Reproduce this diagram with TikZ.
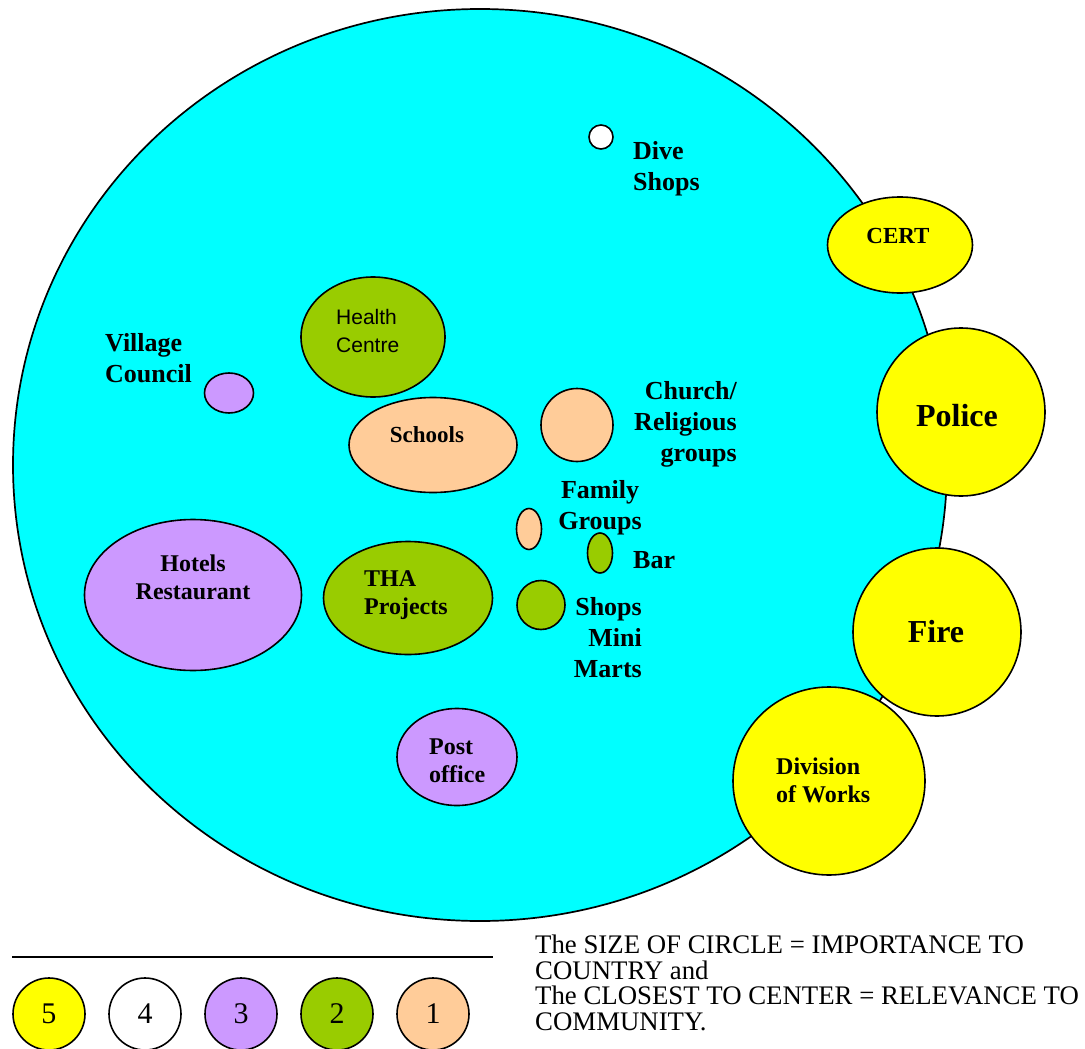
\documentclass[tikz,border=0pt]{standalone}
\usepackage{fontspec}
\setmainfont{Liberation Serif}
\newfontfamily\arialfont{Liberation Sans}
\usetikzlibrary{shapes.geometric}
\definecolor{bgcyan}{HTML}{00FFFF}
\definecolor{yel}{HTML}{FFFF00}
\definecolor{lilac}{HTML}{CC99FF}
\definecolor{lime}{HTML}{99CC00}
\definecolor{peach}{HTML}{FFCC99}
\tikzset{
  blob/.style={ellipse, draw=black, line width=1.6pt, inner sep=0pt},
  legc/.style={circle, draw=black, line width=1.6pt, inner sep=0pt, minimum size=72pt,
    font=\fontsize{30}{30}\selectfont},
  lbl/.style={font=\bfseries\fontsize{26}{31}\selectfont, inner sep=0pt, align=left},
  lblm/.style={font=\bfseries\fontsize{24}{28}\selectfont, inner sep=0pt, align=left},
  lblb/.style={font=\bfseries\fontsize{32}{36}\selectfont, inner sep=0pt},
}
\begin{document}
\begin{tikzpicture}[x=1pt,y=-1pt]
\useasboundingbox (0,0) rectangle (1085,1049);
% main circle
\node[blob, fill=bgcyan, line width=1.7pt, minimum width=934pt, minimum height=912pt] (world) at (480,465) {};
% outer yellow bubbles
\node[blob, fill=yel, minimum width=145pt, minimum height=96pt] (cert) at (900,245) {};
\node[blob, fill=yel, minimum width=168pt, minimum height=168pt] (police) at (961,412) {};
\node[blob, fill=yel, minimum width=192pt, minimum height=188pt] (division) at (829,781) {};
\node[blob, fill=yel, minimum width=168pt, minimum height=168pt] (fire) at (937,632) {};
% inner bubbles
\node[blob, fill=white, minimum width=24pt, minimum height=24pt] (dive) at (601,137) {};
\node[blob, fill=lime, minimum width=144pt, minimum height=120pt] (health) at (373,337) {};
\node[blob, fill=peach, minimum width=168pt, minimum height=95pt] (schools) at (433,445) {};
\node[blob, fill=peach, minimum width=72pt, minimum height=73pt] (church) at (577,425) {};
\node[blob, fill=peach, minimum width=25pt, minimum height=41pt] (family) at (529,529) {};
\node[blob, fill=lime, minimum width=25pt, minimum height=40pt] (bar) at (600,553) {};
\node[blob, fill=lime, minimum width=48pt, minimum height=49pt] (shops) at (541,605) {};
\node[blob, fill=lilac, minimum width=49pt, minimum height=40pt] (village) at (229,393) {};
\node[blob, fill=lilac, minimum width=217pt, minimum height=151pt] (hotels) at (193,595) {};
\node[blob, fill=lime, minimum width=169pt, minimum height=113pt] (tha) at (408,598) {};
\node[blob, fill=lilac, minimum width=120pt, minimum height=97pt] (post) at (457,757) {};
% labels
\node[lbl, anchor=west] (tdive) at (633,169) {Dive\\Shops};
\node[font=\bfseries\fontsize{23}{26}\selectfont, inner sep=0pt] (tcert) at (898,236) {CERT};
\node[lblb] (tpolice) at (957,416) {Police};
\node[lblb] (tfire) at (936,632) {Fire};
\node[lblm, anchor=west] (tdiv) at (776,780) {Division\\of Works};
\node[font=\arialfont\fontsize{21}{28}\selectfont, inner sep=0pt, align=left, anchor=west] (thealth) at (336,331) {Health\\Centre};
\node[font=\bfseries\fontsize{23}{26}\selectfont, inner sep=0pt] (tschools) at (427,435) {Schools};
\node[lbl, anchor=east, align=right] (tchurch) at (737,424) {Church/\\Religious\\groups};
\node[lbl, align=center] (tfamily) at (600,508) {Family\\Groups};
\node[lbl, anchor=west] (tbar) at (633,560) {Bar};
\node[lbl, anchor=east, align=right] (tshops) at (642,638) {Shops\\Mini\\Marts};
\node[lbl, anchor=west] (tvillage) at (105,358) {Village\\Council};
\node[lblm, align=center] (thotels) at (193,577) {Hotels\\Restaurant};
\node[lblm, anchor=west] (ttha) at (364,595) {THA\\Projects};
\node[lblm, anchor=west] (tpost) at (429,761) {Post\\office};
% legend
\coordinate (la) at (12,957);
\coordinate (lb) at (493,957);
\draw[line width=1.3pt] (la) -- (lb);
\node[legc, fill=yel] (l5) at (49,1014) {5};
\node[legc, fill=white] (l4) at (145,1014) {4};
\node[legc, fill=lilac] (l3) at (241,1014) {3};
\node[legc, fill=lime] (l2) at (337,1014) {2};
\node[legc, fill=peach] (l1) at (433,1014) {1};
\node[font=\fontsize{26.8}{25.7}\selectfont, inner sep=0pt, align=left, anchor=west] (note) at (535,983)
  {The SIZE OF CIRCLE = IMPORTANCE TO\\COUNTRY and\\The CLOSEST TO CENTER = RELEVANCE TO\\COMMUNITY.};
\end{tikzpicture}
\end{document}
